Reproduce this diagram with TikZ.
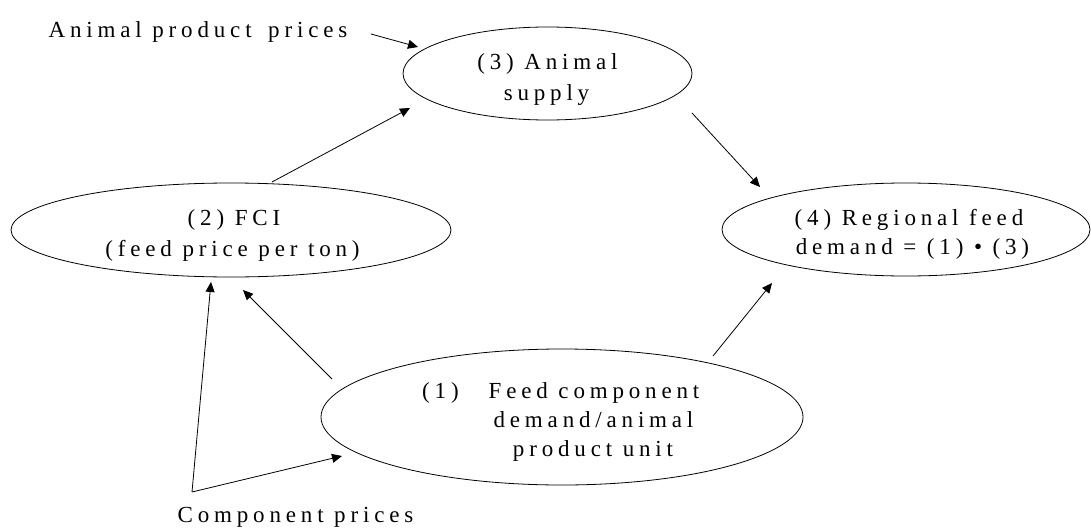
\documentclass[tikz,border=0pt]{standalone}
\usepackage{fontspec}
\setmainfont{Liberation Serif}[LetterSpace=21]
\usetikzlibrary{arrows.meta,shapes.geometric}
\begin{document}
\begin{tikzpicture}[x=1pt,y=-1pt,
  ell/.style={draw, ellipse, line width=0.8pt, inner sep=0pt},
  lbl/.style={anchor=base, inner sep=0pt, xshift=2.5pt, font=\fontsize{23}{27}\selectfont},
  lblw/.style={anchor=base west, inner sep=0pt, font=\fontsize{23}{27}\selectfont},
  arr/.style={line width=0.8pt, -{Triangle[length=10pt,width=9pt]}}]
\useasboundingbox (0,0) rectangle (1091,527);
% ellipses
\node[ell, minimum width=289pt, minimum height=93pt] (e3) at (547.5,73.5) {};
\node[ell, minimum width=440pt, minimum height=94pt] (e2) at (231,230) {};
\node[ell, minimum width=368pt, minimum height=93pt] (e4) at (906,229.5) {};
\node[ell, minimum width=482pt, minimum height=136pt] (e1) at (562,417) {};
% texts
\node[lbl] (tapp) at (195.5,37.5) {Animal product\hspace{6pt} prices};
\node[lbl] (t3a) at (545,69) {(3) Animal};
\node[lbl] (t3b) at (544,100) {supply};
\node[lbl] (t2a) at (231.5,225) {(2) FCI};
\node[lbl] (t2b) at (230,256) {(feed price per ton)};
\node[lbl] (t4a) at (906.5,225) {(4) Regional feed};
\node[lbl] (t4b) at (910,254) {demand = (1) • (3)};
\node[lblw] (t1n) at (422,398) {(1)};
\node[lbl] (t1a) at (591.5,398) {Feed component};
\node[lbl] (t1b) at (591,427) {demand/animal};
\node[lbl] (t1c) at (590.5,456) {product unit};
\node[lbl] (tcp) at (293,522) {Component prices};
% connector end points
\coordinate (a1s) at (371,34);  \coordinate (a1t) at (418,47);
\coordinate (a2s) at (272,182); \coordinate (a2t) at (410,108);
\coordinate (a3s) at (692,113); \coordinate (a3t) at (760,187);
\coordinate (a4s) at (713,356); \coordinate (a4t) at (772,283);
\coordinate (a5s) at (332,379); \coordinate (a5t) at (243,290);
\coordinate (cp) at (192,492);
\coordinate (a6t) at (211,282); \coordinate (a7t) at (342,456);
% connectors
\draw[arr] (a1s) -- (a1t);
\draw[arr] (a2s) -- (a2t);
\draw[arr] (a3s) -- (a3t);
\draw[arr] (a4s) -- (a4t);
\draw[arr] (a5s) -- (a5t);
\draw[arr] (cp) -- (a6t);
\draw[arr] (cp) -- (a7t);
\end{tikzpicture}
\end{document}
